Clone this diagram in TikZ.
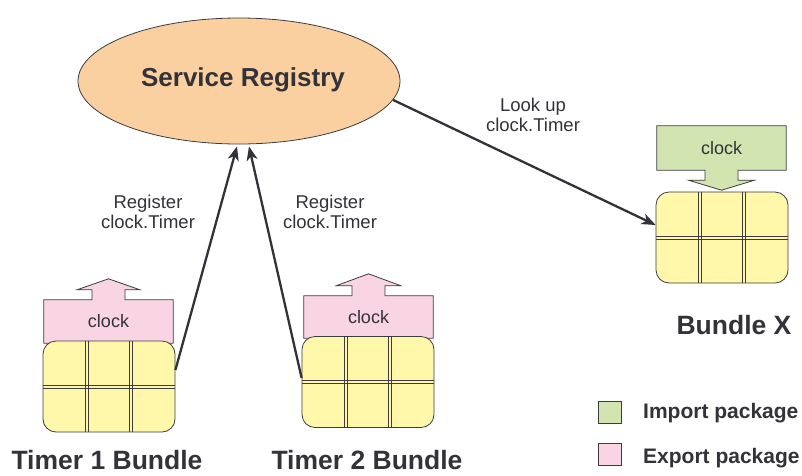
\documentclass[tikz,border=0pt]{standalone}
\usepackage{fontspec}
\setmainfont{Liberation Sans}
\usetikzlibrary{shapes.geometric,arrows.meta,calc,backgrounds}
\definecolor{txt}{RGB}{50,50,56}
\definecolor{edge}{RGB}{60,60,64}
\definecolor{regfill}{RGB}{251,208,160}
\definecolor{pinkc}{RGB}{249,212,227}
\definecolor{greenc}{RGB}{210,228,176}
\definecolor{yellowc}{RGB}{255,247,170}
\tikzset{
  bundle/.style={draw=edge, line width=0.8pt, fill=yellowc, rounded corners=13pt,
    minimum width=132pt, minimum height=91pt, inner sep=0pt},
  gridln/.style={draw=edge, line width=0.7pt},
  pkgtext/.style={text=txt, font=\fontsize{18}{20}\selectfont, minimum width=129pt, inner sep=0pt},
  pkgline/.style={draw=edge, line width=0.8pt, line join=miter},
  lbl/.style={text=txt, font=\fontsize{18.5}{20}\selectfont, align=center, inner sep=0pt},
  big/.style={text=txt, font=\fontsize{26.5}{30}\selectfont\bfseries, inner sep=0pt},
  legtext/.style={text=txt, font=\fontsize{21}{24}\selectfont\bfseries, inner sep=0pt, anchor=west},
  legbox/.style={draw=edge, line width=0.8pt, minimum width=23pt, minimum height=22pt, inner sep=0pt},
  conn/.style={draw=txt, line width=2.3pt, -{Stealth[length=14pt,width=11pt,inset=4pt]}},
}
\begin{document}
\begin{tikzpicture}[x=1pt,y=-1pt]
\useasboundingbox (0,0) rectangle (802,475);

% Service Registry
\node[ellipse, draw=edge, line width=0.8pt, fill=regfill, minimum width=322pt, minimum height=126pt, inner sep=0pt] (sr) at (239,81) {};
\node[big, font=\fontsize{26}{30}\selectfont\bfseries] (srt) at (243,80) {Service Registry};

% package labels (text), outlines on background
\node[pkgtext, minimum height=43pt] (e1) at (108.5,321.5) {clock};
\node[pkgtext, minimum height=42pt] (e2) at (368.5,317) {clock};
\node[pkgtext, minimum height=44pt] (ix) at (721.5,148) {clock};

\begin{pgfonlayer}{background}
\draw[pkgline, fill=pinkc] (e1.south west) -- (e1.north west) -- ([xshift=-16.5pt]e1.north) -- ++(0,-10) -- ++(-15,0) -- ([yshift=21pt]e1.north) -- ([xshift=31.5pt,yshift=10pt]e1.north) -- ++(-15,0) -- ([xshift=16.5pt]e1.north) -- (e1.north east) -- (e1.south east) -- cycle;
\draw[pkgline, fill=pinkc] (e2.south west) -- (e2.north west) -- ([xshift=-16.5pt]e2.north) -- ++(0,-10) -- ++(-16,0) -- ([yshift=22pt]e2.north) -- ([xshift=32.5pt,yshift=10pt]e2.north) -- ++(-16,0) -- ([xshift=16.5pt]e2.north) -- (e2.north east) -- (e2.south east) -- cycle;
\draw[pkgline, fill=greenc] (ix.north west) -- (ix.south west) -- ([xshift=-16.5pt]ix.south) -- ++(0,10) -- ++(-16.5,0) -- ([yshift=-20pt]ix.south) -- ([xshift=33pt,yshift=-10pt]ix.south) -- ++(-16.5,0) -- ([xshift=16.5pt]ix.south) -- (ix.south east) -- (ix.north east) -- cycle;
\end{pgfonlayer}

% Bundles
\node[bundle] (b1) at (109,386.5) {};
\node[bundle] (b2) at (368,382) {};
\node[bundle] (bx) at (722,237.5) {};
\foreach \b in {b1,b2,bx}{
  \foreach \f in {1/3,2/3}{
    \foreach \s in {-1.6,1.6}{
      \draw[gridln] ([xshift=\s pt]$(\b.north west)!\f!(\b.north east)$) -- ([xshift=\s pt]$(\b.south west)!\f!(\b.south east)$);
    }
  }
  \foreach \s in {-1.6,1.6}{
    \draw[gridln] ([yshift=\s pt]\b.west) -- ([yshift=\s pt]\b.east);
  }
}

% Bundle labels
\node[big] (t1) at (107,460.5) {Timer 1 Bundle};
\node[big] (t2) at (367,460.5) {Timer 2 Bundle};
\node[big] (bxl) at (734,325) {Bundle X};

% connectors
\draw[conn] ([yshift=16.5pt]b1.east) -- ([xshift=-2pt,yshift=-2pt]sr.south);
\draw[conn] ([yshift=4pt]b2.west) -- ([xshift=10pt,yshift=-2pt]sr.south);
\draw[conn] (sr.-7) -- ([yshift=12.5pt]bx.west);

% connector labels
\node[lbl] (l1) at (148,212) {Register\\clock.Timer};
\node[lbl] (l2) at (330,212) {Register\\clock.Timer};
\node[lbl] (l3) at (533,115) {Look up\\clock.Timer};

% legend
\node[legbox, fill=greenc] (lg1) at (610,412) {};
\node[legbox, fill=pinkc] (lg2) at (610,454.5) {};
\node[legtext] (lt1) at (643,413) {Import package};
\node[legtext] (lt2) at (643,458) {Export package};
\end{tikzpicture}
\end{document}
